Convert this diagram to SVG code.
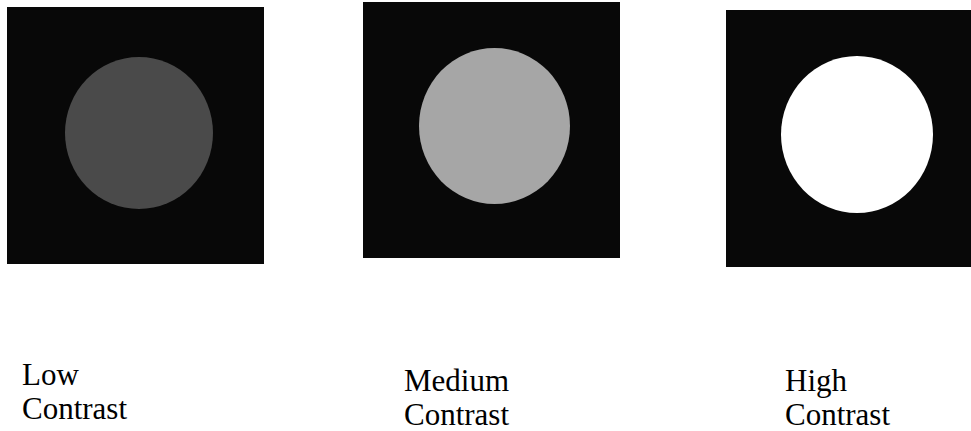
<svg xmlns="http://www.w3.org/2000/svg" width="971" height="431" viewBox="0 0 971 431">
<style>
.bg{fill:#080808}
.lbl{font-family:"Liberation Serif","Times New Roman",serif;font-size:31px;fill:#000}
</style>
<rect width="971" height="431" fill="#fff"/>
<g id="low">
<rect class="bg" x="7" y="7" width="257" height="257"/>
<ellipse cx="139" cy="133" rx="74" ry="76" fill="#4a4a4a"/>
<text class="lbl" x="22" y="385">Low</text>
<text class="lbl" x="22" y="419">Contrast</text>
</g>
<g id="medium">
<rect class="bg" x="363" y="2" width="257" height="256"/>
<ellipse cx="494.5" cy="126" rx="75.5" ry="78" fill="#a6a6a6"/>
<text class="lbl" x="404" y="391">Medium</text>
<text class="lbl" x="404" y="425">Contrast</text>
</g>
<g id="high">
<rect class="bg" x="726" y="10" width="245" height="257"/>
<ellipse cx="857" cy="134.5" rx="76" ry="78.5" fill="#fff"/>
<text class="lbl" x="785" y="391">High</text>
<text class="lbl" x="785" y="425">Contrast</text>
</g>
<g id="connectors"/>
</svg>
